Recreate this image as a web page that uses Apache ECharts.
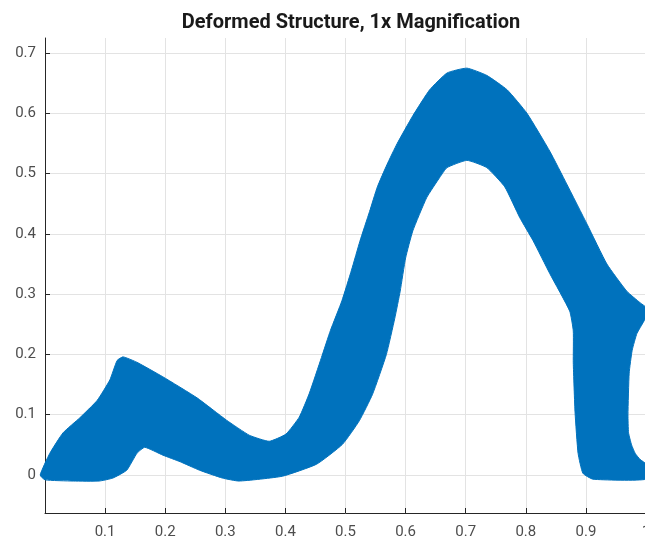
<!DOCTYPE html>
<html>
<head>
<meta charset="utf-8">
<script src="https://cdn.jsdelivr.net/npm/echarts@6/dist/echarts.min.js"></script>
<style>
html,body{margin:0;padding:0;background:#fff;}
#chart{width:645px;height:545px;}
</style>
</head>
<body>
<div id="chart"></div>
<script>
var titleText = 'Deformed Structure, 1x Magnification';
var xTicks = [0.1, 0.2, 0.3, 0.4, 0.5, 0.6, 0.7, 0.8, 0.9, 1];
var yTicks = [0, 0.1, 0.2, 0.3, 0.4, 0.5, 0.6, 0.7];

// upper edge of the deformed band, left to right
var topX = [-0.008, 0.008, 0.03, 0.058, 0.087, 0.108, 0.12, 0.13, 0.153, 0.196, 0.253, 0.302, 0.34, 0.373, 0.401, 0.423, 0.44, 0.46, 0.475, 0.494, 0.51, 0.524, 0.54, 0.553, 0.569, 0.586, 0.612, 0.64, 0.669, 0.702, 0.735, 0.769, 0.802, 0.84, 0.868, 0.902, 0.935, 0.968, 0.99, 1.0];
var topY = [0, 0.036, 0.07, 0.095, 0.124, 0.158, 0.19, 0.196, 0.187, 0.163, 0.128, 0.091, 0.066, 0.056, 0.068, 0.096, 0.136, 0.195, 0.24, 0.289, 0.34, 0.388, 0.437, 0.478, 0.515, 0.55, 0.596, 0.639, 0.667, 0.675, 0.663, 0.639, 0.6, 0.537, 0.483, 0.416, 0.35, 0.305, 0.286, 0.278];

// right end (notch), top to bottom
var endX = [1.0, 0.985, 0.977, 0.972, 0.97, 0.971, 0.976, 0.982, 0.99, 1.0, 1.0];
var endY = [0.262, 0.235, 0.207, 0.169, 0.1, 0.07, 0.05, 0.036, 0.026, 0.018, -0.007];

// lower edge, right to left
var botX = [0.912, 0.895, 0.887, 0.882, 0.879, 0.879, 0.873, 0.84, 0.812, 0.79, 0.765, 0.735, 0.702, 0.669, 0.657, 0.635, 0.612, 0.6, 0.591, 0.582, 0.568, 0.545, 0.523, 0.495, 0.452, 0.395, 0.323, 0.295, 0.257, 0.225, 0.196, 0.166, 0.153, 0.136, 0.113, 0.09, 0.047, 0.0];
var botY = [-0.007, 0.003, 0.036, 0.103, 0.186, 0.239, 0.272, 0.334, 0.389, 0.427, 0.478, 0.51, 0.522, 0.51, 0.494, 0.46, 0.405, 0.36, 0.305, 0.26, 0.2, 0.134, 0.09, 0.051, 0.018, -0.002, -0.01, -0.005, 0.008, 0.022, 0.033, 0.046, 0.036, 0.008, -0.005, -0.01, -0.01, -0.008];

var outline = [];
topX.forEach(function (x, i) { outline.push([x, topY[i]]); });
endX.forEach(function (x, i) { outline.push([x, endY[i]]); });
botX.forEach(function (x, i) { outline.push([x, botY[i]]); });

var axisColor = '#262626';
var labelColor = '#4d4d4d';
var gridColor = '#e3e3e3';

function fmt(v) { return String(Math.round(v * 10) / 10); }

var chart = echarts.init(document.getElementById('chart'));
chart.setOption({
    animation: false,
    title: {
        text: titleText,
        left: 346,
        top: 8,
        textAlign: 'center',
        textStyle: { fontFamily: 'Roboto', fontWeight: 'bold', fontSize: 20, color: '#1a1a1a' }
    },
    grid: { left: 45, right: -1, top: 38, bottom: 32, outerBoundsMode: 'none', containLabel: false },
    xAxis: {
        type: 'value',
        min: 0,
        max: 1,
        axisLine: { show: true, onZero: false, lineStyle: { color: axisColor, width: 1 } },
        axisTick: { show: true, inside: true, length: 5, customValues: xTicks, lineStyle: { color: axisColor } },
        axisLabel: { customValues: xTicks, color: labelColor, fontFamily: 'Roboto', fontSize: 15, margin: 12, formatter: fmt },
        splitLine: { show: true, lineStyle: { color: gridColor, width: 1 } }
    },
    yAxis: {
        type: 'value',
        min: -0.063,
        max: 0.725,
        axisLine: { show: true, onZero: false, lineStyle: { color: axisColor, width: 1 } },
        axisTick: { show: true, inside: true, length: 5, customValues: yTicks, lineStyle: { color: axisColor } },
        axisLabel: { customValues: yTicks, color: labelColor, fontFamily: 'Roboto', fontSize: 15, margin: 9, formatter: fmt },
        splitLine: { show: true, lineStyle: { color: gridColor, width: 1 } }
    },
    series: [{
        type: 'custom',
        clip: false,
        data: [0],
        renderItem: function (params, api) {
            var pts = outline.map(function (p) { return api.coord(p); });
            return {
                type: 'polygon',
                shape: { points: pts, smooth: 0.15 },
                style: { fill: '#0072BD', stroke: '#0072BD', lineWidth: 1 }
            };
        }
    }]
});
</script>
</body>
</html>
